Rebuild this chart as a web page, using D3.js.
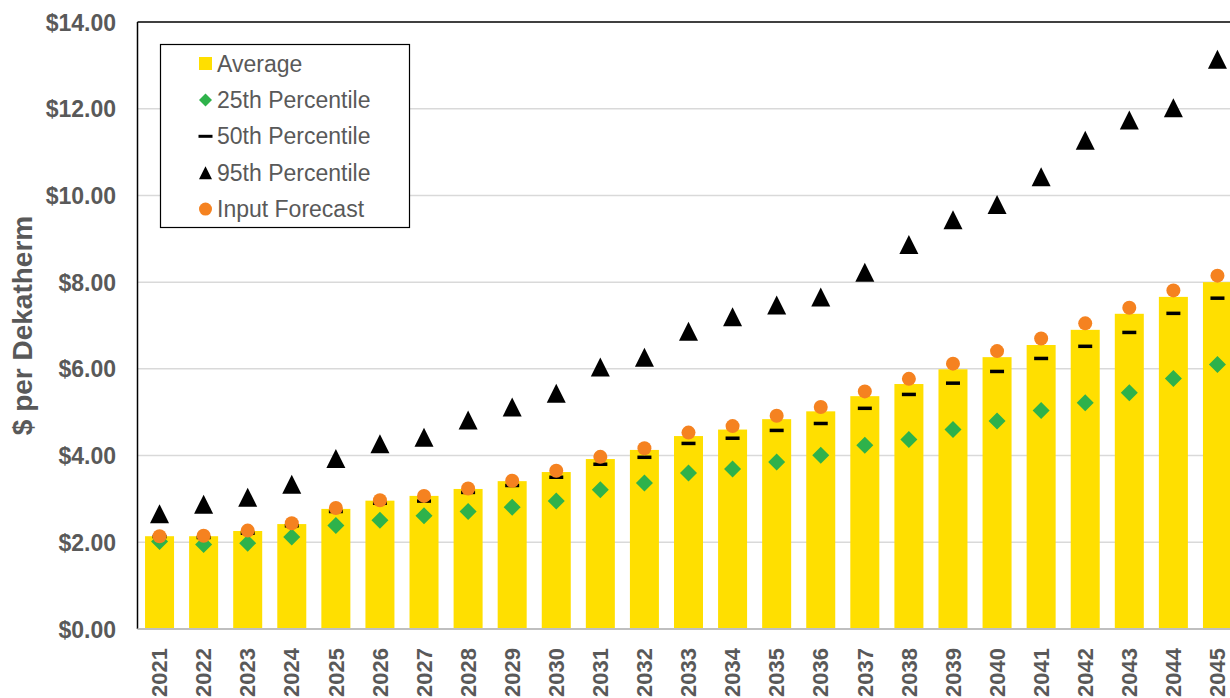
<!DOCTYPE html>
<html>
<head>
<meta charset="utf-8">
<script src="https://cdn.jsdelivr.net/npm/d3@7/dist/d3.min.js"></script>
<style>
  html, body { margin: 0; padding: 0; background: #fff; }
  svg { display: block; }
  text { font-family: "Liberation Sans", Arial, sans-serif; }
</style>
</head>
<body>
<svg id="chart" width="1230" height="698"></svg>
<script>
// Annual gas price distribution, $ per Dekatherm
const years = ["2021","2022","2023","2024","2025","2026","2027","2028","2029","2030",
               "2031","2032","2033","2034","2035","2036","2037","2038","2039","2040",
               "2041","2042","2043","2044","2045"];
const average = [2.14, 2.14, 2.26, 2.42, 2.77, 2.96, 3.07, 3.23, 3.41, 3.62,
                 3.92, 4.13, 4.45, 4.60, 4.84, 5.02, 5.37, 5.65, 5.99, 6.27,
                 6.55, 6.90, 7.27, 7.66, 8.00];
const p25 = [2.02, 1.95, 1.98, 2.12, 2.39, 2.51, 2.61, 2.71, 2.81, 2.95,
             3.21, 3.37, 3.60, 3.69, 3.85, 4.01, 4.24, 4.37, 4.60, 4.80,
             5.04, 5.22, 5.45, 5.78, 6.10];
const p50 = [2.13, 2.11, 2.21, 2.38, 2.71, 2.90, 2.95, 3.15, 3.31, 3.50,
             3.80, 3.96, 4.28, 4.40, 4.58, 4.74, 5.09, 5.41, 5.67, 5.94,
             6.24, 6.52, 6.84, 7.28, 7.63];
const p95 = [2.66, 2.88, 3.04, 3.34, 3.93, 4.27, 4.42, 4.82, 5.12, 5.44,
             6.04, 6.27, 6.87, 7.20, 7.47, 7.66, 8.23, 8.87, 9.44, 9.79,
             10.43, 11.27, 11.74, 12.02, 13.14];
const inputForecast = [2.14, 2.15, 2.27, 2.44, 2.79, 2.97, 3.07, 3.24, 3.42, 3.65,
                       3.97, 4.17, 4.53, 4.68, 4.92, 5.12, 5.48, 5.77, 6.12, 6.41,
                       6.70, 7.05, 7.41, 7.81, 8.15];
const yTicks = [0, 2, 4, 6, 8, 10, 12, 14];
const legendLabels = ["Average", "25th Percentile", "50th Percentile", "95th Percentile", "Input Forecast"];

const COL = {
  bar: "#FFDF00", green: "#2EB24B", orange: "#F58220", black: "#000000",
  text: "#595959", grid: "#D9D9D9", axis: "#BFBFBF"
};

const svg = d3.select("#chart");
const plot = { left: 137.5, right: 1239.5, top: 22, bottom: 629 };

const x = d3.scaleBand().domain(years)
  .range([plot.left, plot.right])
  .paddingInner(0.342).paddingOuter(0.171);
const y = d3.scaleLinear().domain([0, 14]).range([plot.bottom, plot.top]);
const cx = d => x(d) + x.bandwidth() / 2;

// gridlines
svg.append("g").selectAll("line").data(yTicks.filter(t => t > 0 && t < 14)).join("line")
  .attr("x1", plot.left).attr("x2", plot.right)
  .attr("y1", d => y(d)).attr("y2", d => y(d))
  .attr("stroke", COL.grid).attr("stroke-width", 1.5);

// y axis labels
const yAxis = d3.axisLeft(y).tickValues(yTicks).tickSize(0).tickPadding(0)
  .tickFormat(d => "$" + d3.format(".2f")(d));
const gy = svg.append("g").attr("transform", `translate(116,0)`).call(yAxis);
gy.select(".domain").remove();
gy.selectAll("text")
  .attr("fill", COL.text).attr("font-size", 23).attr("font-weight", "bold")
  .attr("font-family", '"Liberation Sans", Arial, sans-serif')
  .attr("dy", "0.35em");

// axis title
svg.append("text")
  .attr("transform", `translate(32,${(plot.top + plot.bottom) / 2}) rotate(-90)`)
  .attr("text-anchor", "middle")
  .attr("fill", COL.text).attr("font-size", 28).attr("font-weight", "bold")
  .text("$ per Dekatherm");

// bars: average
svg.append("g").selectAll("rect").data(years).join("rect")
  .attr("x", d => x(d)).attr("width", x.bandwidth())
  .attr("y", (d, i) => y(average[i]))
  .attr("height", (d, i) => y(0) - y(average[i]))
  .attr("fill", COL.bar);

// x axis labels
const xAxis = d3.axisBottom(x).tickSize(0).tickPadding(0);
const gx = svg.append("g").attr("transform", `translate(0,${plot.bottom})`).call(xAxis);
gx.select(".domain").remove();
gx.selectAll("text")
  .attr("transform", "translate(0,19) rotate(-90)")
  .attr("text-anchor", "end").attr("dy", "0.35em").attr("y", 0)
  .attr("fill", COL.text).attr("font-size", 22).attr("font-weight", "bold")
  .attr("font-family", '"Liberation Sans", Arial, sans-serif');

// plot frame
svg.append("line").attr("x1", plot.left).attr("x2", plot.left)
  .attr("y1", plot.top).attr("y2", plot.bottom).attr("stroke", COL.black).attr("stroke-width", 1.5);
svg.append("line").attr("x1", plot.left).attr("x2", plot.right)
  .attr("y1", plot.top).attr("y2", plot.top).attr("stroke", COL.black).attr("stroke-width", 1.5);
svg.append("line").attr("x1", plot.left).attr("x2", plot.right)
  .attr("y1", plot.bottom).attr("y2", plot.bottom).attr("stroke", COL.axis).attr("stroke-width", 2);

// marker shapes
const triPath = s => `M0,${-s/2}L${s/2},${s/2}L${-s/2},${s/2}Z`;
const diaPath = s => `M0,${-s/2}L${s/2},0L0,${s/2}L${-s/2},0Z`;

// 25th percentile diamonds
svg.append("g").selectAll("path").data(years).join("path")
  .attr("transform", (d, i) => `translate(${cx(d)},${y(p25[i])})`)
  .attr("d", diaPath(17)).attr("fill", COL.green);

// 50th percentile dashes
svg.append("g").selectAll("rect").data(years).join("rect")
  .attr("x", d => cx(d) - 7).attr("width", 14)
  .attr("y", (d, i) => y(p50[i]) - 1.75).attr("height", 3.5)
  .attr("fill", COL.black);

// 95th percentile triangles
svg.append("g").selectAll("path").data(years).join("path")
  .attr("transform", (d, i) => `translate(${cx(d)},${y(p95[i])})`)
  .attr("d", triPath(19)).attr("fill", COL.black);

// input forecast circles
svg.append("g").selectAll("circle").data(years).join("circle")
  .attr("cx", d => cx(d)).attr("cy", (d, i) => y(inputForecast[i]))
  .attr("r", 7).attr("fill", COL.orange);

// legend
const lg = svg.append("g");
lg.append("rect").attr("x", 160.5).attr("y", 44.5).attr("width", 249).attr("height", 183)
  .attr("fill", "#fff").attr("stroke", COL.black).attr("stroke-width", 1.2);
const rowY = i => 63.5 + i * 36.4;
const mx = 205.5;
lg.append("rect").attr("x", mx - 6.5).attr("y", rowY(0) - 6.5).attr("width", 13).attr("height", 13).attr("fill", COL.bar);
lg.append("path").attr("transform", `translate(${mx},${rowY(1)})`).attr("d", diaPath(13)).attr("fill", COL.green);
lg.append("rect").attr("x", mx - 7).attr("y", rowY(2) - 1.5).attr("width", 14).attr("height", 3).attr("fill", COL.black);
lg.append("path").attr("transform", `translate(${mx},${rowY(3)})`).attr("d", triPath(13)).attr("fill", COL.black);
lg.append("circle").attr("cx", mx).attr("cy", rowY(4)).attr("r", 6.5).attr("fill", COL.orange);
lg.selectAll("text.lbl").data(legendLabels).join("text").attr("class", "lbl")
  .attr("x", 217).attr("y", (d, i) => rowY(i)).attr("dy", "0.35em")
  .attr("fill", COL.text).attr("font-size", 23)
  .text(d => d);
</script>
</body>
</html>
